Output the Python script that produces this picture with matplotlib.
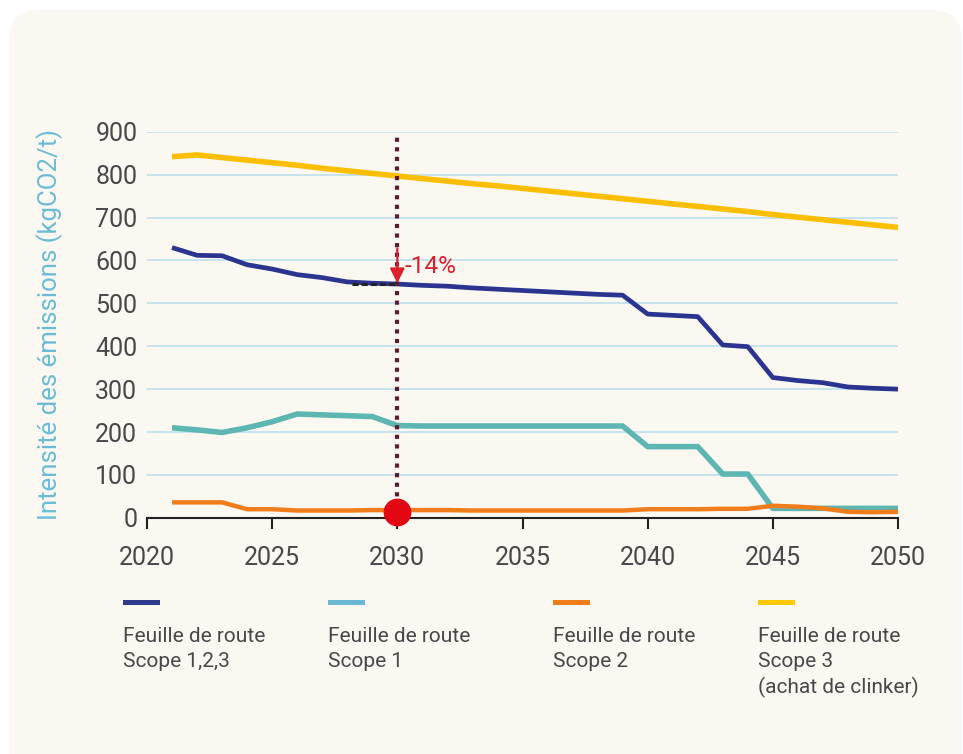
import matplotlib
matplotlib.use("Agg")
import matplotlib.pyplot as plt
import matplotlib.patches as patches

# data
years = list(range(2021, 2051))
scope_123 = [630, 612, 611, 590, 580, 567, 560, 550, 547, 545,
             542, 540, 536, 533, 530, 527, 524, 521, 519, 475,
             472, 469, 403, 399, 327, 320, 315, 305, 302, 300]
scope_1 = [210, 205, 199, 210, 224, 242, 240, 238, 236, 215,
           214, 214, 214, 214, 214, 214, 214, 214, 214, 166,
           166, 166, 102, 102, 22, 22, 22, 22, 22, 22]
scope_2 = [36, 36, 36, 20, 20, 17, 17, 17, 18, 18,
           18, 18, 17, 17, 17, 17, 17, 17, 17, 20,
           20, 20, 21, 21, 28, 26, 22, 14, 13, 14]
scope_3 = [842, 846, 840, 834, 828, 822, 815, 809, 803, 797,
           791, 785, 779, 774, 768, 762, 756, 750, 744, 738,
           732, 726, 720, 714, 707, 701, 695, 689, 683, 677]

legend_labels = ["Feuille de route\nScope 1,2,3",
                 "Feuille de route\nScope 1",
                 "Feuille de route\nScope 2",
                 "Feuille de route\nScope 3\n(achat de clinker)"]
yticks = list(range(0, 1000, 100))
xticks = list(range(2020, 2051, 5))
marker_year = 2030
marker_value = 545
ref_start = 2028.2
arrow_top = 628
pct_label = "-14%"

plt.rcParams['font.family'] = ['Roboto', 'DejaVu Sans']

W, H = 963, 754
fig = plt.figure(figsize=(W / 100, H / 100), dpi=100, facecolor="white")

# cream rounded panel
bg = fig.add_axes([0, 0, 1, 1], zorder=0)
bg.set_xlim(0, W)
bg.set_ylim(H, 0)
bg.set_axis_off()
panel = patches.FancyBboxPatch((9, 10), 953, 800, boxstyle="round,pad=0,rounding_size=30",
                               facecolor="#fbf8f1", edgecolor="none")
bg.add_patch(panel)

ax = fig.add_axes([147 / W, 1 - 517.8 / H, 751 / W, 386 / H], zorder=1)
ax.patch.set_alpha(0)

grey = "#48484a"
cols_line = ["#2b3590", "#5db6b1", "#f07d19", "#fbbf00"]
cols_leg = ["#2e3c8e", "#6ab7d3", "#ef7d1b", "#ffc804"]

for v in yticks[1:]:
    ax.axhline(v, color="#bcdfee", lw=1.2, zorder=1)

ax.plot(years, scope_1, color=cols_line[1], lw=4, zorder=3, solid_capstyle="butt")
ax.plot(years, scope_123, color=cols_line[0], lw=3.4, zorder=4, solid_capstyle="butt")
ax.plot(years, scope_3, color=cols_line[3], lw=4, zorder=4, solid_capstyle="butt")
ax.plot(years, scope_2, color=cols_line[2], lw=3.2, zorder=5, solid_capstyle="butt", clip_on=False)

# 2030 marker
ax.plot([marker_year, marker_year], [28, 890], color="#5c1a33", lw=3,
        dashes=(1, 1.3), zorder=6)
ax.plot([marker_year], [14], "o", color="#e30613", ms=19, zorder=7, clip_on=False)
ax.plot([ref_start, marker_year], [marker_value, marker_value], color="#222222",
        lw=2.2, dashes=(2, 1), zorder=5)
ax.annotate("", xy=(marker_year, marker_value + 2), xytext=(marker_year, arrow_top),
            arrowprops=dict(arrowstyle="-|>", color="#d9202b", lw=1.6, mutation_scale=22,
                            shrinkA=0, shrinkB=0), zorder=8)
ax.text(marker_year + 0.28, 585, pct_label, color="#d9202b", fontsize=17.5,
        ha="left", va="center", zorder=8)

ax.set_xlim(2020, 2050)
ax.set_ylim(0, 900)
ax.set_xticks(xticks)
ax.set_yticks(yticks)
ax.tick_params(axis="y", length=0, pad=7, labelsize=18, labelcolor=grey)
ax.tick_params(axis="x", length=8, width=1.5, pad=12, labelsize=18, labelcolor=grey,
               color="#222222", direction="out")
for s in ["top", "right", "left"]:
    ax.spines[s].set_visible(False)
ax.spines["bottom"].set_color("#222222")
ax.spines["bottom"].set_linewidth(1.5)
ax.set_ylabel("Intensité des émissions (kgCO2/t)", color="#6bbcd6", fontsize=18.5)
ax.yaxis.set_label_coords(-84 / 751, 0.5)

# legend below the chart
leg_x = [123, 328, 553, 758]
for x, lab, c in zip(leg_x, legend_labels, cols_leg):
    bg.add_patch(patches.Rectangle((x, 599.5), 37, 5, facecolor=c, edgecolor="none"))
    bg.text(x, 627, lab, fontsize=15, color=grey, ha="left", va="top", linespacing=1.38)

fig.savefig("out.png", dpi=100, facecolor="white")
